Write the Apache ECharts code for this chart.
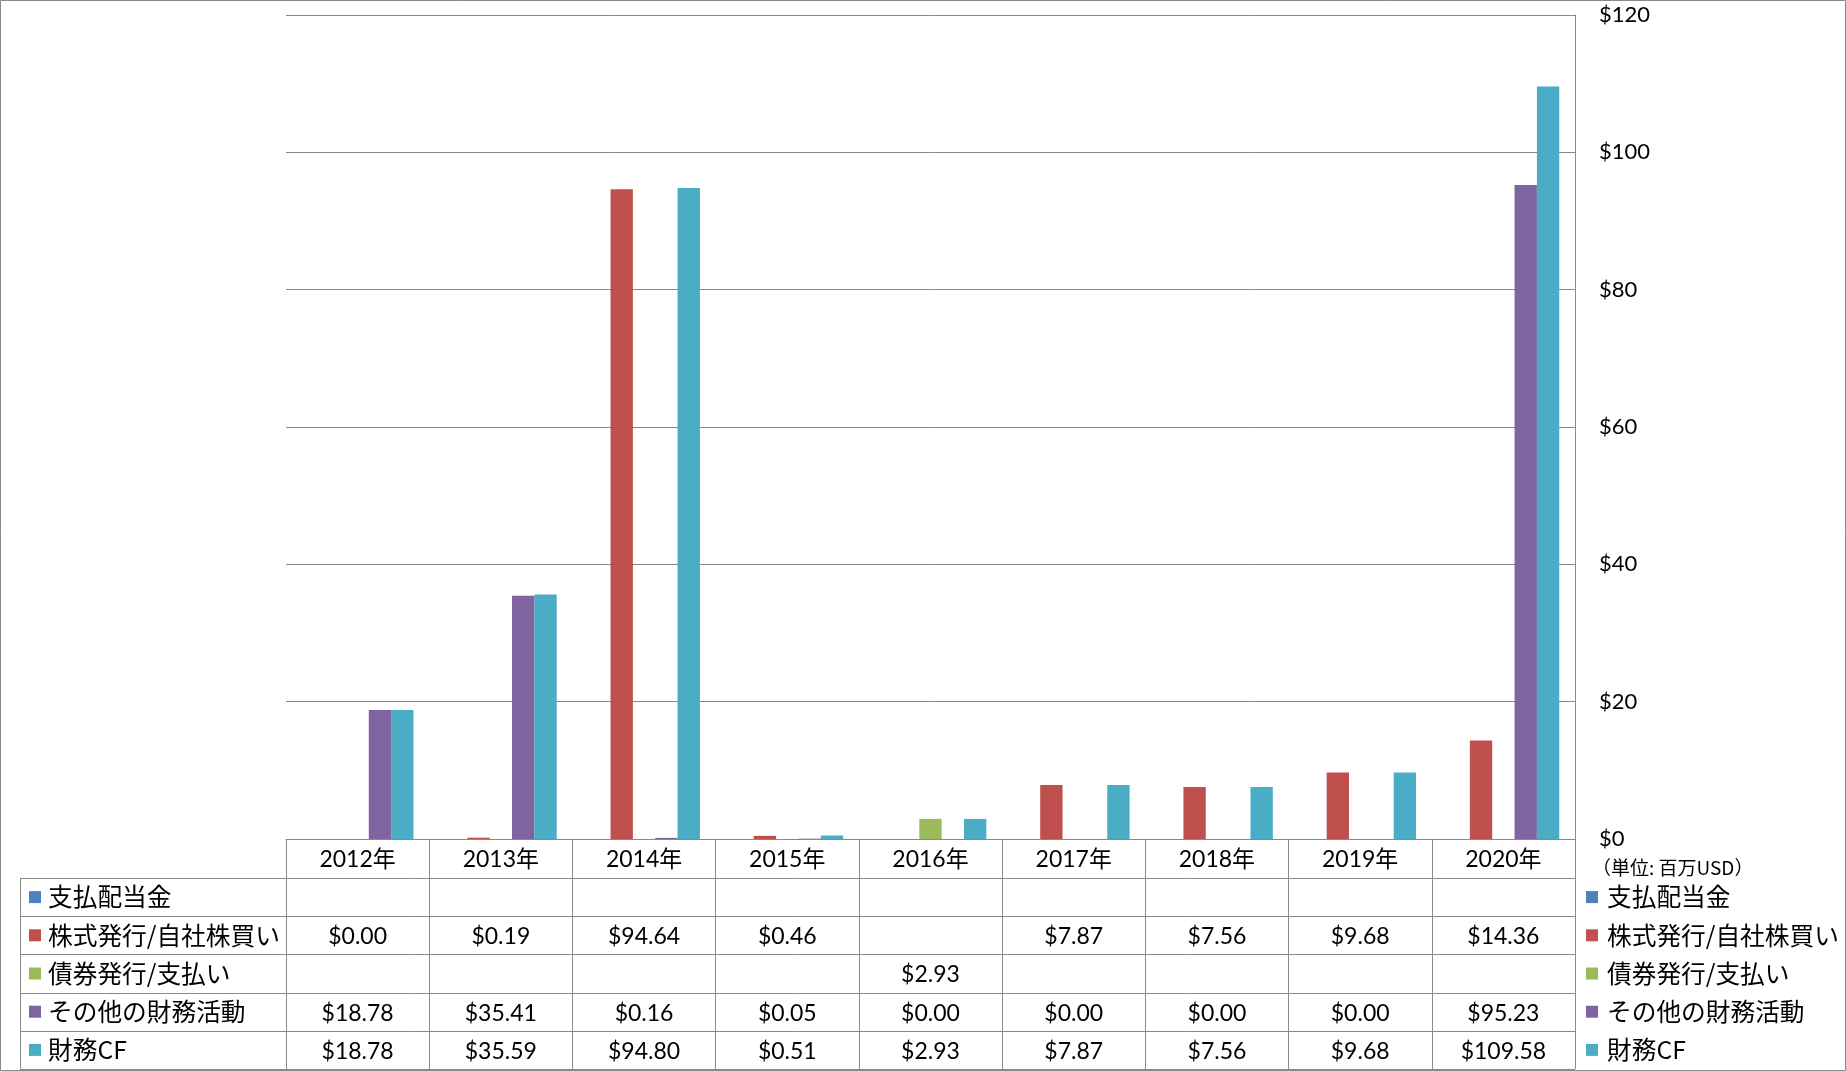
<!DOCTYPE html>
<html><head><meta charset="utf-8">
<script src="https://cdn.jsdelivr.net/npm/echarts@6/dist/echarts.min.js"></script>
<style>html,body{margin:0;padding:0;background:#fff}#c{width:1846px;height:1071px}</style>
</head><body><div id="c"></div>
<script>
// ---- data ----
const categories = ['2012年','2013年','2014年','2015年','2016年','2017年','2018年','2019年','2020年'];
const seriesNames = ['支払配当金','株式発行/自社株買い','債券発行/支払い','その他の財務活動','財務CF'];
const dividendsPaid = [null,null,null,null,null,null,null,null,null];
const stockIssueBuyback = [0.00,0.19,94.64,0.46,null,7.87,7.56,9.68,14.36];
const debtIssuePayment = [null,null,null,null,2.93,null,null,null,null];
const otherFinancing = [18.78,35.41,0.16,0.05,0.00,0.00,0.00,0.00,95.23];
const financingCF = [18.78,35.59,94.80,0.51,2.93,7.87,7.56,9.68,109.58];
const yMin = 0, yMax = 120, yInterval = 20;
const unitLabel = '（単位: 百万USD）';

const seriesData = [dividendsPaid, stockIssueBuyback, debtIssuePayment, otherFinancing, financingCF];
const colors = ['#4F81BD','#C0504D','#9BBB59','#8064A2','#4BACC6'];
const numFont = 'Lato, "Noto Sans CJK JP", sans-serif';
const cjkFont = '"Noto Sans CJK JP", sans-serif';
const lineColor = '#898989';

const chart = echarts.init(document.getElementById('c'), null, {renderer:'canvas'});
const gridLeft = 286, gridRight = 1575, gridTop = 15, gridBottom = 839;
chart.setOption({
  animation: false,
  backgroundColor: '#fff',
  grid: {left: gridLeft, right: 1846 - gridRight, top: gridTop, bottom: 1071 - gridBottom, containLabel: false},
  xAxis: {
    type: 'category', data: categories, boundaryGap: true,
    axisLine: {show: true, lineStyle: {color: lineColor, width: 1}},
    axisTick: {show: true, interval: 0, length: 230, lineStyle: {color: lineColor, width: 1}},
    axisLabel: {interval: 0, margin: 20.5, verticalAlign: 'middle', color: '#000', fontSize: 23, fontFamily: numFont}
  },
  yAxis: {
    type: 'value', position: 'right', min: yMin, max: yMax, interval: yInterval,
    axisLine: {show: true, lineStyle: {color: lineColor, width: 1}},
    axisTick: {show: false},
    splitLine: {show: true, lineStyle: {color: lineColor, width: 1}},
    axisLabel: {margin: 24, color: '#000', fontSize: 22, fontFamily: numFont, formatter: v => '$' + v}
  },
  series: seriesData.map((d, i) => ({
    name: seriesNames[i], type: 'bar', data: d,
    barGap: '0%', barCategoryGap: '22%',
    itemStyle: {color: colors[i]}
  }))
});

// ---- data table and legends ----
const rowTops = [839, 878, 916.2, 954.4, 992.6, 1030.8, 1069];
const tableLeft = 20;
const g = [];
g.push({type:'rect', shape:{x:0.5,y:0.5,width:1845,height:1070}, style:{fill:null, stroke:lineColor, lineWidth:1}, silent:true});
for (let r = 1; r < rowTops.length; r++) {
  const y = Math.round(rowTops[r]) + 0.5;
  g.push({type:'line', shape:{x1:tableLeft, y1:y, x2:gridRight, y2:y}, style:{stroke:lineColor, lineWidth:1}, silent:true});
}
g.push({type:'line', shape:{x1:tableLeft+0.5, y1:Math.round(rowTops[1]), x2:tableLeft+0.5, y2:Math.round(rowTops[6])}, style:{stroke:lineColor, lineWidth:1}, silent:true});

for (let s = 0; s < seriesNames.length; s++) {
  const yc = (rowTops[s+1] + rowTops[s+2]) / 2;
  g.push({type:'rect', shape:{x:29, y:yc-6, width:12, height:12}, style:{fill:colors[s]}, silent:true});
  g.push({type:'text', x:48, y:yc, style:{text:seriesNames[s], fontSize:24.7, fontFamily:cjkFont, fill:'#000', align:'left', verticalAlign:'middle'}, silent:true});
  g.push({type:'rect', shape:{x:1586, y:yc-6, width:12, height:12}, style:{fill:colors[s]}, silent:true});
  g.push({type:'text', x:1607, y:yc, style:{text:seriesNames[s], fontSize:24.7, fontFamily:cjkFont, fill:'#000', align:'left', verticalAlign:'middle'}, silent:true});
  seriesData[s].forEach((v, i) => {
    if (v === null || v === undefined) return;
    const xc = chart.convertToPixel({xAxisIndex:0}, i);
    g.push({type:'text', x:xc, y:yc + 1.5, style:{text:'$' + v.toFixed(2), fontSize:23, fontFamily:numFont, fill:'#000', align:'center', verticalAlign:'middle'}, silent:true});
  });
}
g.push({type:'text', x:1592, y:868, style:{text:unitLabel, fontSize:19, fontFamily:cjkFont, fill:'#000', align:'left', verticalAlign:'middle'}, silent:true});

chart.setOption({graphic: {elements: g}});
</script>
</body></html>
